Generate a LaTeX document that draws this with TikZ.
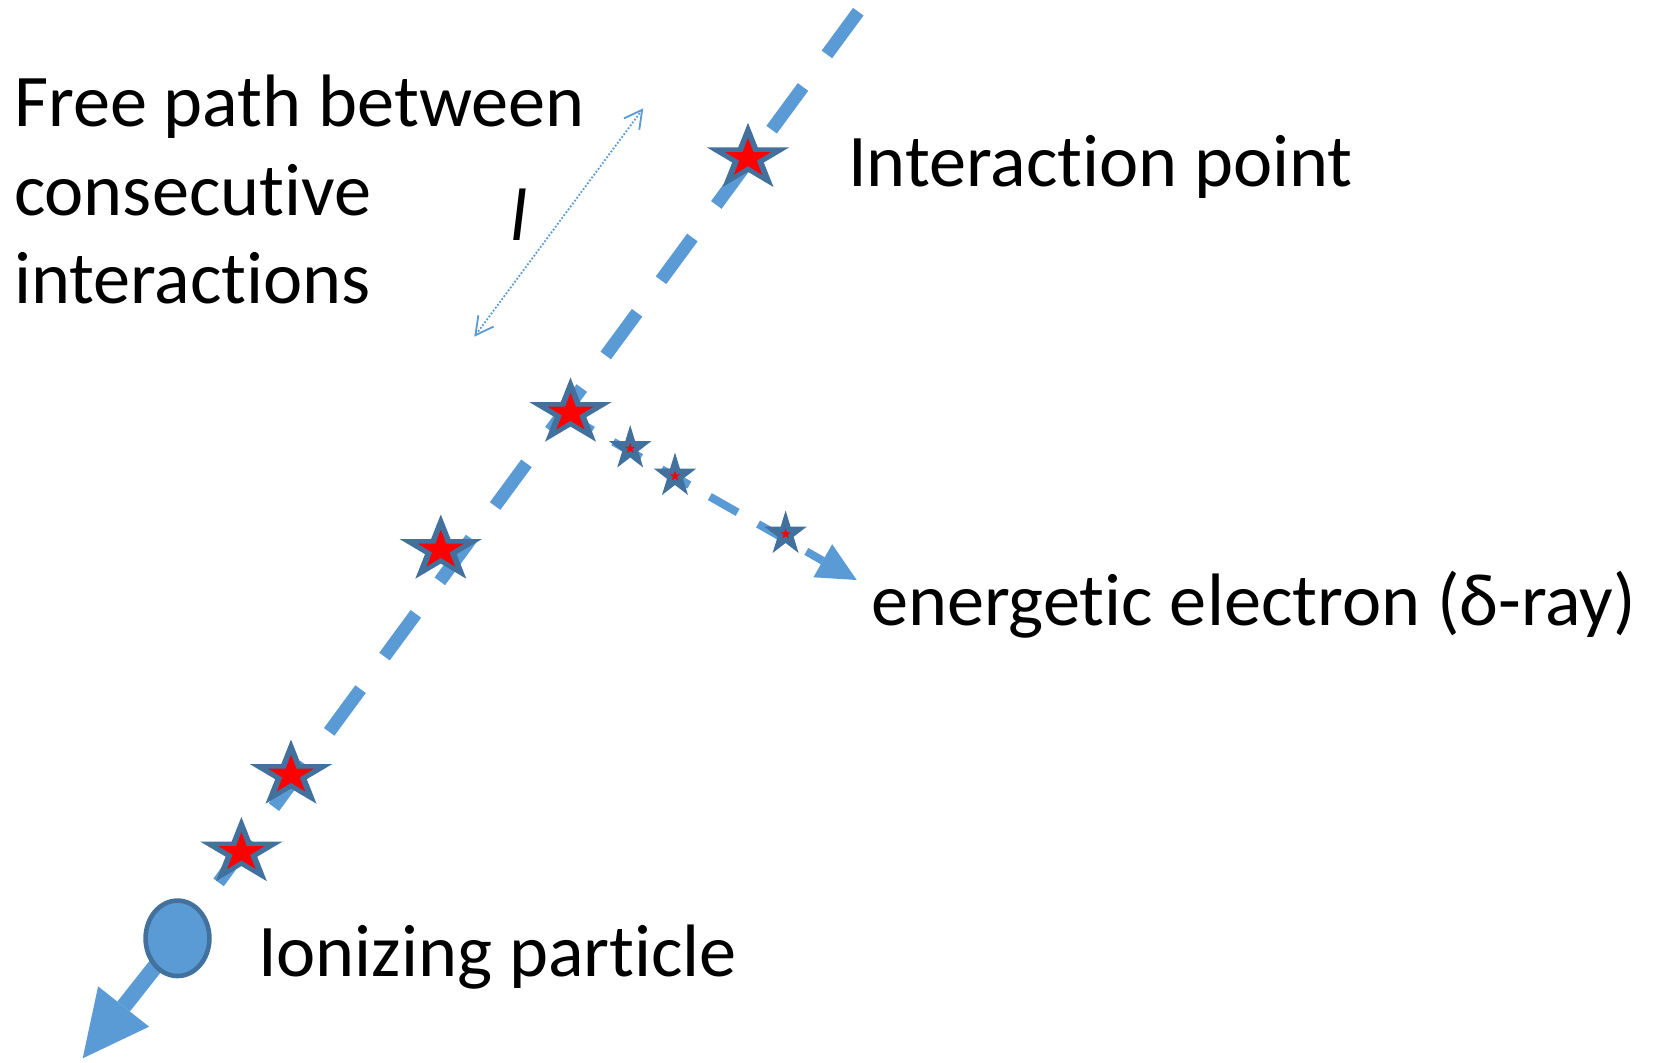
\documentclass[tikz,border=0pt]{standalone}
\usepackage{fontspec}
\setmainfont{Carlito}[Ligatures={NoCommon,NoContextual}]
\usetikzlibrary{arrows.meta,shapes.geometric}
\definecolor{lblue}{HTML}{5B9BD5}
\definecolor{dblue}{HTML}{41719C}
\newcommand\istar[7]{%
  \coordinate (#1) at (#2,#3);
  \fill[dblue, shift={(#1)}, xscale=#4, yscale=#5]
    (0,-1) -- (0.2245,-0.309) -- (0.951,-0.309) -- (0.3633,0.118) -- (0.588,0.809)
    -- (0,0.382) -- (-0.588,0.809) -- (-0.3633,0.118) -- (-0.951,-0.309) -- (-0.2245,-0.309) -- cycle;
  \fill[red, shift={(#1)}, xscale=#6, yscale=#7]
    (0,-1) -- (0.2245,-0.309) -- (0.951,-0.309) -- (0.3633,0.118) -- (0.588,0.809)
    -- (0,0.382) -- (-0.588,0.809) -- (-0.3633,0.118) -- (-0.951,-0.309) -- (-0.2245,-0.309) -- cycle;
}
\tikzset{
  lbl/.style={anchor=base west, inner sep=0pt, outer sep=0pt, font=\fontsize{74.3bp}{88.3bp}\selectfont},
  mainline/.style={draw=lblue, line width=13bp, dash pattern=on 53bp off 40.4bp},
  deltaline/.style={draw=lblue, line width=8bp, dash pattern=on 32bp off 23.5bp,
    -{Triangle[length=39bp,width=38bp,line width=0pt]}},
  exitarrow/.style={draw=lblue, line width=16bp, -{Triangle[length=66bp,width=65bp,line width=0pt]}},
  freepath/.style={draw=lblue, line width=1.8bp, dash pattern=on 1.8bp off 1.8bp,
    {Straight Barb[length=17.7bp,width=19bp]}-{Straight Barb[length=17.7bp,width=19bp]}},
  particle/.style={ellipse, draw=dblue, fill=lblue, line width=4.6bp,
    minimum width=63.8bp, minimum height=75.4bp, inner sep=0pt},
}
\begin{document}
\begin{tikzpicture}[x=1bp, y=-1bp]
\fill[white] (0,0) rectangle (1653,1062);
\useasboundingbox (0,0) rectangle (1653,1062);

% named points
\coordinate (mtop) at (858.3,11.7);
\coordinate (ionc) at (177.5,938.3);
\coordinate (exittip) at (82.7,1058.3);
\coordinate (dstart) at (565,414.4);
\coordinate (dtip) at (856.7,580);
\coordinate (lbot) at (474.3,336.7);
\coordinate (ltop) at (643.3,108.3);

% tracks
\draw[mainline] (mtop) -- (ionc);
\draw[exitarrow] (ionc) -- (exittip);
\draw[deltaline] (dstart) -- (dtip);
\draw[freepath] (lbot) -- (ltop);

% ionizing particle
\node[particle] (ion) at (ionc) {};

% interaction points
\istar{sA}{748}{158.3}{43.4}{35.5}{24}{20.3}
\istar{sE}{570.5}{413}{43.4}{35.5}{24}{20.3}
\istar{sB}{440.8}{550}{43.4}{35.5}{24}{20.3}
\istar{sC}{291}{775}{43.4}{35.5}{24}{20.3}
\istar{sD}{241.4}{852.5}{43.4}{35.5}{24}{20.3}
\istar{sF}{630.2}{448.5}{22.1}{23.5}{5.5}{5.5}
\istar{sG}{675}{476}{22.1}{23.5}{5.5}{5.5}
\istar{sH}{785.6}{534}{22.1}{23.5}{5.5}{5.5}

% labels
\node[lbl] (fp1) at (14,126.7) {Free path between};
\node[lbl] (fp2) at (14,215.7) {consecutive};
\node[lbl] (fp3) at (14,303.3) {interactions};
\node[lbl] (ell) at (510,240) {\itshape l};
\node[lbl] (tip) at (848,186) {Interaction point};
\node[lbl] (tde) at (871,625) {energetic electron (δ-ray)};
\node[lbl] (tion) at (258,976) {Ionizing particle};
\end{tikzpicture}
\end{document}
